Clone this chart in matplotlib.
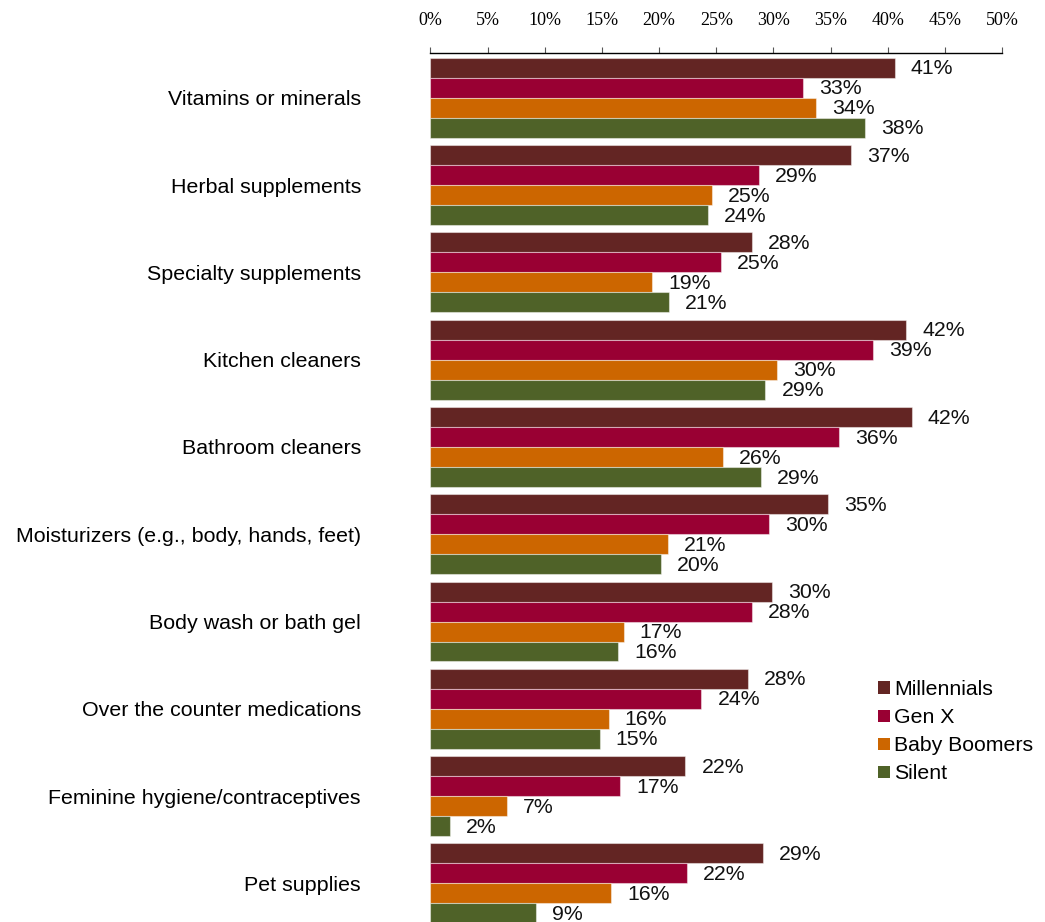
#!/usr/bin/env python3
"""Share of each generation buying product categories, as grouped horizontal bars."""

import matplotlib

matplotlib.use("Agg")
import matplotlib.pyplot as plt
import numpy as np
from matplotlib.patches import Patch


CATEGORIES = [
    "Vitamins or minerals",
    "Herbal supplements",
    "Specialty supplements",
    "Kitchen cleaners",
    "Bathroom cleaners",
    "Moisturizers (e.g., body, hands, feet)",
    "Body wash or bath gel",
    "Over the counter medications",
    "Feminine hygiene/contraceptives",
    "Pet supplies",
]

GENERATIONS = ["Millennials", "Gen X", "Baby Boomers", "Silent"]

MILLENNIALS = [40.6, 36.8, 28.1, 41.6, 42.1, 34.8, 29.9, 27.8, 22.3, 29.1]
GEN_X = [32.6, 28.7, 25.4, 38.7, 35.7, 29.6, 28.1, 23.7, 16.6, 22.4]
BABY_BOOMERS = [33.7, 24.6, 19.4, 30.3, 25.6, 20.8, 16.9, 15.6, 6.7, 15.8]
SILENT = [38.0, 24.3, 20.9, 29.3, 28.9, 20.2, 16.4, 14.8, 1.75, 9.2]

COLORS = ["#632523", "#990033", "#CC6600", "#4F6228"]

X_TICKS = list(range(0, 51, 5))


def main() -> None:
    plt.rcParams.update({"font.family": ["Liberation Sans", "DejaVu Sans"]})
    series = [MILLENNIALS, GEN_X, BABY_BOOMERS, SILENT]

    fig = plt.figure(figsize=(10.45, 9.22), dpi=100)
    ax = fig.add_axes([0.4118, 0.0, 0.9591 - 0.4118, 0.9425])

    centers = np.arange(len(CATEGORIES))
    bar_h = 0.229
    offsets = (np.arange(len(GENERATIONS)) - 1.5) * bar_h

    for values, offset, color in zip(series, offsets, COLORS):
        ys = centers + offset
        ax.barh(
            ys,
            values,
            height=bar_h,
            color=color,
            edgecolor=(1, 1, 1, 0.45),
            linewidth=0.8,
        )
        for y, v in zip(ys, values):
            ax.annotate(
                f"{v:.0f}%",
                xy=(v, y),
                xytext=(11.5, -0.8),
                textcoords="offset points",
                ha="left",
                va="center",
                fontsize=15.3,
                color="#111111",
            )

    ax.set_xlim(0, 50)
    ax.set_ylim(9.442, -0.512)

    ax.xaxis.tick_top()
    ax.set_xticks(X_TICKS)
    ax.set_xticklabels([f"{t}%" for t in X_TICKS], family="Liberation Serif", fontsize=13)
    ax.tick_params(axis="x", direction="out", length=4.5, width=0.8, color="#555555", pad=13)

    ax.set_yticks(centers)
    ax.set_yticklabels(CATEGORIES, fontsize=15.4)
    ax.tick_params(axis="y", length=0, pad=50)

    for side in ("left", "right", "bottom"):
        ax.spines[side].set_visible(False)
    ax.spines["top"].set_linewidth(1.0)
    ax.spines["top"].set_color("black")

    handles = [Patch(facecolor=c, edgecolor="none") for c in COLORS]
    fig.legend(
        handles,
        GENERATIONS,
        loc="center left",
        bbox_to_anchor=(0.8405, 0.2064),
        frameon=False,
        fontsize=15.3,
        handlelength=0.55,
        handleheight=0.5,
        handletextpad=0.2,
        labelspacing=0.43,
        borderpad=0,
        borderaxespad=0,
    )

    fig.savefig("out.png", dpi=100, facecolor="white")
    plt.close(fig)


if __name__ == "__main__":
    main()
